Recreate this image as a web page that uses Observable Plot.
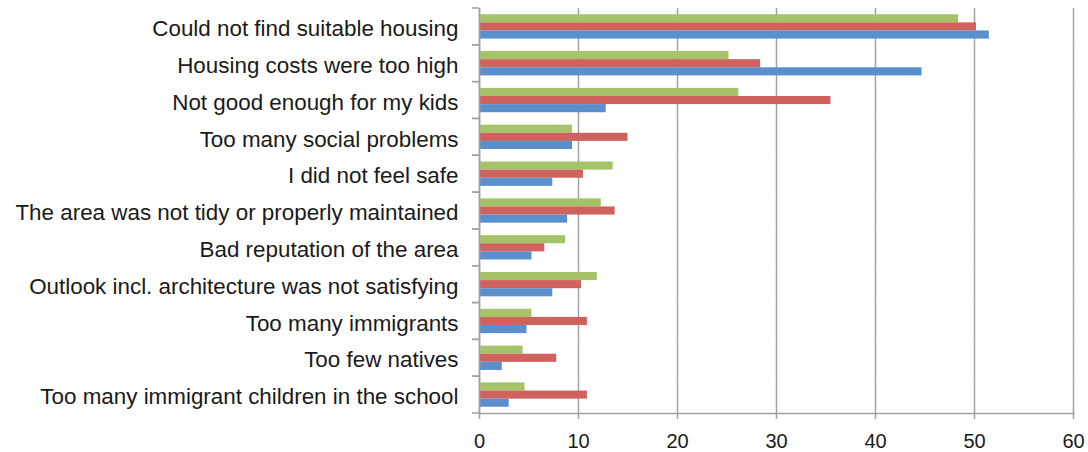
<!DOCTYPE html>
<html><head><meta charset="utf-8">
<script src="https://cdn.jsdelivr.net/npm/d3@7"></script>
<script src="https://cdn.jsdelivr.net/npm/@observablehq/plot@0.6"></script>
<style>body{margin:0;background:#fff;}</style>
</head><body><div id="chart"></div>
<script>
const categories = [
  "Could not find suitable housing",
  "Housing costs were too high",
  "Not good enough for my kids",
  "Too many social problems",
  "I did not feel safe",
  "The area was not tidy or properly maintained",
  "Bad reputation of the area",
  "Outlook incl. architecture was not satisfying",
  "Too many immigrants",
  "Too few natives",
  "Too many immigrant children in the school"
];
const seriesNames = ["Series 1", "Series 2", "Series 3"];
const series1 = [48.4, 25.2, 26.2, 9.4, 13.5, 12.3, 8.7, 11.9, 5.3, 4.4, 4.6];
const series2 = [50.2, 28.4, 35.5, 15.0, 10.5, 13.7, 6.6, 10.3, 10.9, 7.8, 10.9];
const series3 = [51.5, 44.7, 12.8, 9.4, 7.4, 8.9, 5.3, 7.4, 4.8, 2.3, 3.0];
const xTicks = [0, 10, 20, 30, 40, 50, 60];
const colors = ["#a5c46a", "#d0625d", "#5b8fcb"];

const allSeries = [series1, series2, series3];
const data = categories.flatMap((c, i) => allSeries.map((s, j) => ({category: c, series: seriesNames[j], value: s[i]})));

const axisGray = "#a0a0a0";

// small ticks on the left axis at each category boundary (drawn once per facet)
function boundaryTicks(index, scales, values, dimensions) {
  const {marginLeft} = dimensions;
  const [y0, y1] = scales.y.range();
  const g = d3.create("svg:g").attr("stroke", axisGray).attr("stroke-width", 1.5);
  for (const yy of [y0, y1]) {
    g.append("line").attr("x1", marginLeft - 7).attr("x2", marginLeft).attr("y1", yy).attr("y2", yy);
  }
  return g.node();
}

const chart = Plot.plot({
  width: 1088, height: 452,
  marginLeft: 479, marginRight: 15, marginTop: 8, marginBottom: 39,
  style: {fontFamily: "'Liberation Sans', Arial, sans-serif", fontSize: "20px", color: "#1a1a1a", background: "#fff"},
  x: {domain: [0, 60]},
  y: {domain: seriesNames, paddingInner: 0, paddingOuter: 0.77, round: false, axis: null},
  fy: {domain: categories, padding: 0, round: false},
  color: {domain: seriesNames, range: colors},
  marks: [
    Plot.gridX(xTicks, {stroke: axisGray, strokeOpacity: 1, strokeWidth: 1.5}),
    Plot.barX(data, {fy: "category", y: "series", x: "value", fill: "series"}),
    Plot.ruleX([0], {stroke: axisGray, strokeWidth: 1.5}),
    boundaryTicks,
    Plot.frame({anchor: "bottom", facetAnchor: "bottom", stroke: axisGray, strokeWidth: 1.5}),
    Plot.axisX(xTicks, {tickSize: 6, tickPadding: 14, stroke: axisGray, strokeWidth: 1.5, fontSize: 20, fill: "#1a1a1a", label: null}),
    Plot.axisFy({anchor: "left", tickSize: 0, tickPadding: 21, fontSize: 22.4, dy: 2, fill: "#1a1a1a", label: null})
  ]
});
document.getElementById("chart").appendChild(chart);
</script>
</body></html>
